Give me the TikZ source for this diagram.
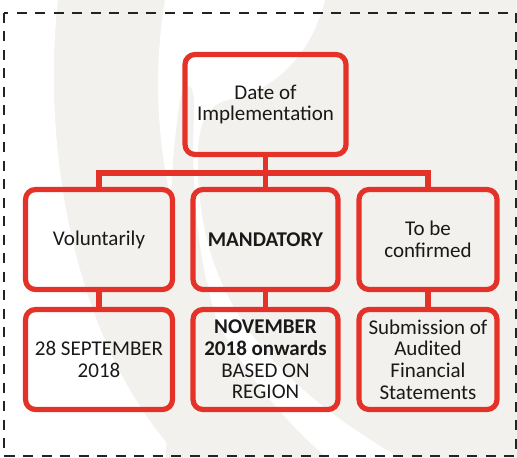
\documentclass[tikz,border=0pt]{standalone}
\usepackage{fontspec}
\setmainfont{Carlito}
\definecolor{boxred}{RGB}{229,50,40}
\definecolor{wm}{RGB}{243,241,238}
\definecolor{txt}{RGB}{25,25,25}
\definecolor{framec}{RGB}{35,35,35}
\begin{document}
\begin{tikzpicture}[x=1pt,y=-1pt,
  box/.style={draw=boxred, line width=5.2pt, rounded corners=10pt,
    minimum width=147pt, minimum height=100pt, inner sep=0pt,
    align=center, text=txt, font=\fontsize{21}{21.7}\selectfont},
  conn/.style={draw=boxred, line width=5.2pt},
  frame/.style={draw=framec, line width=2pt, dash pattern=on 10pt off 8.5pt}]
\useasboundingbox (0,0) rectangle (517,458);
% watermark
\fill[wm] (0,0) rectangle (517,458);
\fill[white] (0,0) -- (58,0) .. controls (42,140) and (70,340) .. (180,458) -- (0,458) -- cycle;
\fill[white] (165,0) .. controls (140,150) and (180,330) .. (327,458)
  -- (400,458) .. controls (250,370) and (195,280) .. (198,150)
  .. controls (200,110) and (215,100) .. (240,98)
  .. controls (290,80) and (315,40) .. (325,0) -- cycle;
\fill[wm] (166,460) .. controls (170,300) and (165,200) .. (180,100)
  .. controls (185,80) and (195,80) .. (194,110)
  .. controls (188,250) and (215,380) .. (300,458) -- cycle;
% frame
\draw[frame] (3.5,12.5) rectangle (515.5,455.5);
% boxes
\node[box, minimum width=161pt] (top) at (265.5,104.5) {Date of\\Implementation};
\node[box] (vol) at (99,239.5) {Voluntarily};
\node[box, minimum width=145pt] (man) at (265.5,239.5) {\textbf{MANDATORY}};
\node[box, minimum width=138pt] (tbc) at (428,239.5) {To be\\confirmed};
\node[box] (sep) at (99,359.5) {28 SEPTEMBER\\2018};
\node[box, minimum width=145pt] (nov) at (265.5,359.5) {\textbf{NOVEMBER}\\\textbf{2018 onwards}\\BASED ON\\REGION};
\node[box, minimum width=138pt] (sub) at (428,359.5) {Submission of\\Audited\\Financial\\Statements};
% connectors
\coordinate (bar) at (265.5,173);
\draw[conn] (top.south) -- (bar);
\draw[conn] (vol.north) |- (bar) -| (tbc.north);
\draw[conn] (bar) -- (man.north);
\draw[conn] (vol) -- (sep);
\draw[conn] (man) -- (nov);
\draw[conn] (tbc) -- (sub);
\end{tikzpicture}
\end{document}
